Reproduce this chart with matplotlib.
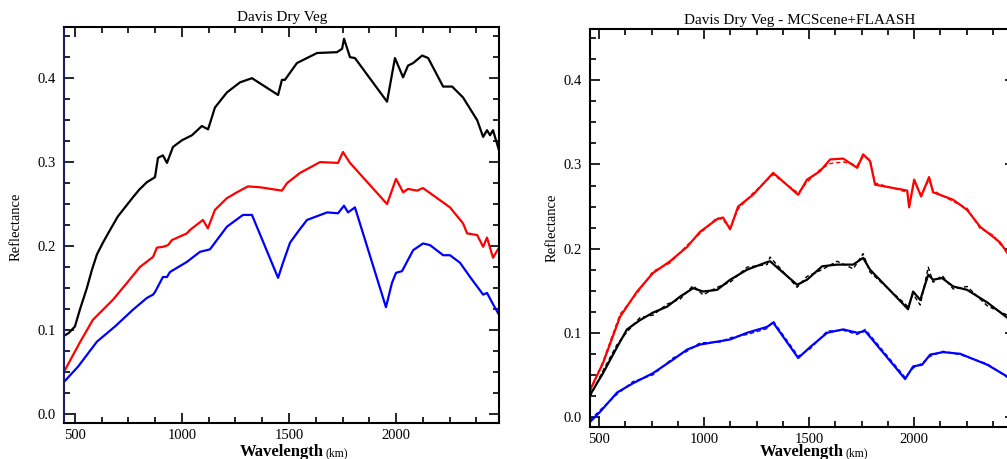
import matplotlib
matplotlib.use("Agg")
import matplotlib.pyplot as plt
from matplotlib.ticker import MultipleLocator

plt.rcParams['font.family'] = ['Liberation Serif', 'DejaVu Serif']

# ---- left panel: Davis Dry Veg ----
wl_blk_l = [449, 470, 500, 523, 556, 580, 603, 631, 664, 700, 740, 771, 800, 836, 874, 888, 911, 930, 958,
            1000, 1047, 1093, 1122, 1154, 1210, 1271, 1327, 1449, 1467, 1481, 1537, 1631, 1724, 1748, 1757,
            1785, 1808, 1958, 1995, 2033, 2056, 2080, 2122, 2150, 2220, 2262, 2313, 2379, 2407, 2425, 2439,
            2453, 2481]
ref_blk_l = [0.093, 0.096, 0.104, 0.124, 0.150, 0.172, 0.190, 0.204, 0.219, 0.235, 0.248, 0.258, 0.267,
             0.276, 0.282, 0.305, 0.308, 0.299, 0.318, 0.326, 0.332, 0.343, 0.339, 0.365, 0.383, 0.395,
             0.400, 0.380, 0.398, 0.398, 0.418, 0.430, 0.431, 0.435, 0.447, 0.425, 0.424, 0.372, 0.424,
             0.401, 0.415, 0.418, 0.427, 0.424, 0.390, 0.390, 0.377, 0.350, 0.330, 0.338, 0.332, 0.338,
             0.314]

wl_red_l = [449, 523, 584, 678, 743, 804, 865, 883, 911, 935, 953, 1023, 1037, 1098, 1121, 1154, 1210,
            1257, 1308, 1364, 1467, 1491, 1551, 1645, 1729, 1752, 1785, 1958, 2000, 2033, 2056, 2098,
            2126, 2192, 2252, 2313, 2332, 2379, 2407, 2425, 2453, 2481]
ref_red_l = [0.050, 0.085, 0.112, 0.136, 0.156, 0.175, 0.187, 0.198, 0.199, 0.201, 0.207, 0.215, 0.219,
             0.231, 0.221, 0.243, 0.257, 0.264, 0.271, 0.270, 0.266, 0.275, 0.287, 0.300, 0.299, 0.312,
             0.299, 0.250, 0.280, 0.264, 0.268, 0.266, 0.269, 0.257, 0.246, 0.227, 0.215, 0.213, 0.199,
             0.210, 0.186, 0.198]

wl_blu_l = [449, 514, 603, 687, 771, 836, 865, 874, 911, 930, 944, 1023, 1084, 1131, 1163, 1210, 1285,
            1327, 1449, 1472, 1505, 1542, 1584, 1678, 1729, 1757, 1776, 1808, 1841, 1953, 1981, 2000,
            2028, 2080, 2126, 2159, 2220, 2252, 2299, 2346, 2407, 2425, 2448, 2481]
ref_blu_l = [0.038, 0.056, 0.086, 0.104, 0.124, 0.138, 0.142, 0.145, 0.163, 0.163, 0.169, 0.181, 0.193,
             0.196, 0.207, 0.223, 0.237, 0.237, 0.162, 0.180, 0.204, 0.217, 0.231, 0.240, 0.239, 0.248,
             0.240, 0.246, 0.219, 0.127, 0.156, 0.168, 0.170, 0.195, 0.203, 0.201, 0.189, 0.189, 0.180,
             0.163, 0.142, 0.144, 0.133, 0.118]

# ---- right panel: MCScene+FLAASH (solid = fit, dashed = retrieved) ----
wl_red_r = [457, 519, 600, 681, 757, 838, 919, 981, 1062, 1090, 1124, 1162, 1233, 1329, 1448, 1490, 1552,
            1600, 1662, 1729, 1757, 1790, 1814, 1967, 1976, 2000, 2033, 2071, 2090, 2186, 2252, 2314,
            2376, 2410, 2443, 2480]
ref_red_r = [0.032, 0.064, 0.119, 0.149, 0.171, 0.185, 0.202, 0.220, 0.235, 0.237, 0.223, 0.250, 0.264,
             0.290, 0.264, 0.282, 0.292, 0.306, 0.307, 0.296, 0.312, 0.304, 0.276, 0.269, 0.249, 0.282,
             0.262, 0.285, 0.267, 0.258, 0.246, 0.226, 0.214, 0.207, 0.195, 0.182]
ret_red_r = [0.030, 0.066, 0.122, 0.147, 0.173, 0.183, 0.204, 0.218, 0.237, 0.234, 0.225, 0.247, 0.266,
             0.288, 0.266, 0.279, 0.294, 0.301, 0.303, 0.299, 0.309, 0.306, 0.278, 0.267, 0.251, 0.279,
             0.264, 0.282, 0.269, 0.256, 0.248, 0.224, 0.216, 0.205, 0.197, 0.180]

wl_blk_r = [457, 519, 586, 633, 695, 757, 824, 886, 948, 995, 1062, 1124, 1205, 1300, 1314, 1443, 1490,
            1562, 1633, 1710, 1757, 1790, 1971, 1995, 2029, 2067, 2090, 2133, 2186, 2252, 2348, 2443, 2480]
ref_blk_r = [0.026, 0.052, 0.083, 0.104, 0.115, 0.124, 0.131, 0.143, 0.153, 0.149, 0.151, 0.163, 0.175,
             0.184, 0.185, 0.157, 0.163, 0.179, 0.181, 0.181, 0.189, 0.175, 0.128, 0.149, 0.139, 0.169,
             0.163, 0.165, 0.155, 0.151, 0.136, 0.118, 0.110]
ret_blk_r = [0.024, 0.055, 0.086, 0.101, 0.118, 0.121, 0.134, 0.140, 0.156, 0.145, 0.154, 0.160, 0.178,
             0.181, 0.190, 0.154, 0.167, 0.175, 0.185, 0.176, 0.194, 0.172, 0.131, 0.146, 0.133, 0.178,
             0.160, 0.168, 0.152, 0.155, 0.132, 0.121, 0.108]

wl_blu_r = [457, 505, 586, 662, 757, 852, 919, 981, 1076, 1124, 1205, 1300, 1329, 1448, 1505, 1586, 1662,
            1729, 1767, 1957, 1995, 2038, 2076, 2138, 2219, 2348, 2443, 2480]
ref_blu_r = [-0.006, 0.006, 0.029, 0.040, 0.052, 0.068, 0.080, 0.086, 0.090, 0.092, 0.100, 0.107, 0.112,
             0.070, 0.083, 0.100, 0.104, 0.100, 0.102, 0.045, 0.060, 0.062, 0.074, 0.077, 0.075, 0.062,
             0.048, 0.040]
ret_blu_r = [-0.004, 0.008, 0.027, 0.042, 0.050, 0.070, 0.078, 0.088, 0.089, 0.094, 0.098, 0.105, 0.114,
             0.072, 0.081, 0.102, 0.103, 0.098, 0.104, 0.047, 0.058, 0.064, 0.072, 0.078, 0.074, 0.063,
             0.047, 0.041]

W, H = 1007, 459
fig = plt.figure(figsize=(W / 100, H / 100), dpi=100)


def px_axes(l, t, r, b):
    return fig.add_axes([l / W, 1 - b / H, (r - l) / W, (b - t) / H])


def style(ax, xlim, ylim):
    ax.set_xlim(*xlim)
    ax.set_ylim(*ylim)
    ax.xaxis.set_major_locator(MultipleLocator(500))
    ax.xaxis.set_minor_locator(MultipleLocator(125))
    ax.yaxis.set_major_locator(MultipleLocator(0.1))
    ax.yaxis.set_minor_locator(MultipleLocator(0.025))
    ax.yaxis.set_major_formatter(plt.FuncFormatter(lambda v, p: "%.1f" % v))
    ax.tick_params(which='both', direction='in', top=True, right=True, labelsize=10.5, width=1.2)
    ax.tick_params(which='major', length=7)
    ax.tick_params(axis='x', which='major', pad=4)
    ax.tick_params(axis='y', which='major', pad=6)
    ax.tick_params(which='minor', length=4)
    for s in ax.spines.values():
        s.set_linewidth(1.5)


ax1 = px_axes(64, 27, 499, 423)
style(ax1, (449, 2481), (-0.011, 0.461))
ax1.spines['left'].set_color('#1c1c6a')
ax1.plot(wl_blk_l, ref_blk_l, color='black', lw=1.6)
ax1.plot(wl_red_l, ref_red_l, color='red', lw=1.6)
ax1.plot(wl_blu_l, ref_blu_l, color='blue', lw=1.6)

ax2 = px_axes(590, 29, 1015, 427)
style(ax2, (457, 2480), (-0.012, 0.461))
for wl, ref, ret, c in [(wl_red_r, ref_red_r, ret_red_r, 'red'),
                        (wl_blk_r, ref_blk_r, ret_blk_r, 'black'),
                        (wl_blu_r, ref_blu_r, ret_blu_r, 'blue')]:
    ax2.plot(wl, ret, color=c, lw=1.0, ls=(0, (3, 2)))
    ax2.plot(wl, ref, color=c, lw=1.6)

# titles and labels
fig.text(282 / W, 1 - 21 / H, 'Davis Dry Veg', ha='center', va='baseline', fontsize=11)
fig.text(800 / W, 1 - 24 / H, 'Davis Dry Veg - MCScene+FLAASH', ha='center', va='baseline', fontsize=11)
fig.canvas.draw()
renderer = fig.canvas.get_renderer()
for x0 in [240, 760]:
    t = fig.text(x0 / W, 1 - 456 / H, 'Wavelength', ha='left', va='baseline', fontsize=12, weight='bold')
    ext = t.get_window_extent(renderer)
    fig.text((ext.x1 + 2) / W, 1 - 456 / H, '(km)', ha='left', va='baseline', fontsize=8.5)
fig.text(16 / W, 1 - 227 / H, 'Reflectance', rotation=90, ha='center', va='center', fontsize=10.5)
fig.text(552 / W, 1 - 228 / H, 'Reflectance', rotation=90, ha='center', va='center', fontsize=10.5)

fig.savefig('out.png', dpi=100)
